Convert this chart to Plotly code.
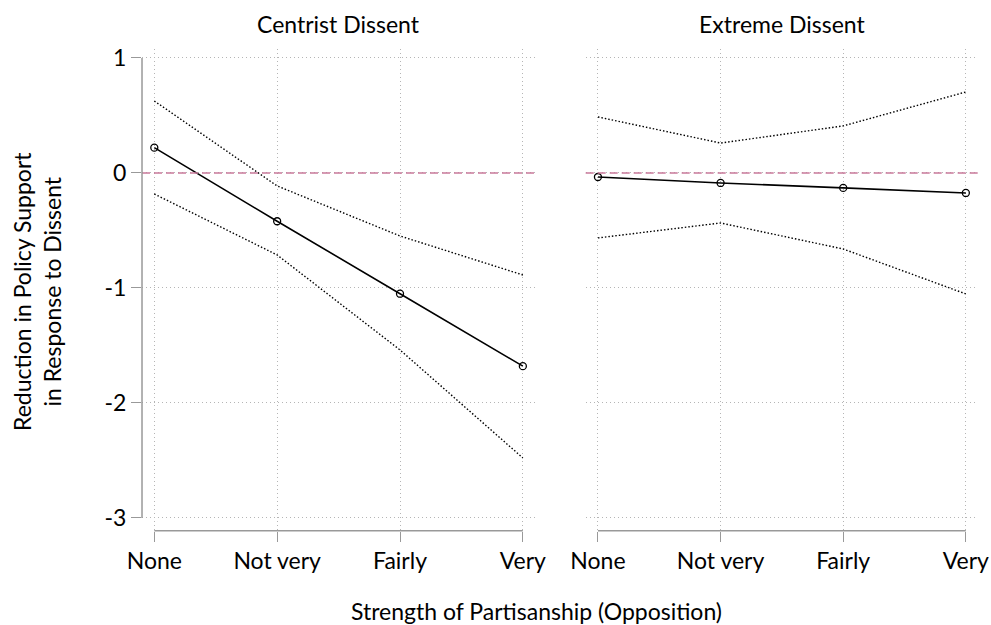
import plotly.graph_objects as go

categories = ["None", "Not very", "Fairly", "Very"]

centrist_est = [0.22, -0.42, -1.05, -1.68]
centrist_hi = [0.626, -0.113, -0.548, -0.887]
centrist_lo = [-0.183, -0.713, -1.539, -2.478]

extreme_est = [-0.035, -0.087, -0.13, -0.174]
extreme_hi = [0.487, 0.26, 0.409, 0.704]
extreme_lo = [-0.565, -0.435, -0.661, -1.052]

panel_titles = ["Centrist Dissent", "Extreme Dissent"]
y_ticks = [1, 0, -1, -2, -3]
y_ticklabels = ["1", "0", "-1", "-2", "-3"]

FONT = "Lato"
FS = 23
xpos = list(range(len(categories)))

fig = go.Figure()

panels = [
    ("x", "y", centrist_est, centrist_hi, centrist_lo),
    ("x2", "y2", extreme_est, extreme_hi, extreme_lo),
]
for xa, ya, est, hi, lo in panels:
    for ci in (hi, lo):
        fig.add_trace(go.Scatter(x=xpos, y=ci, mode="lines", xaxis=xa, yaxis=ya,
                                 line=dict(color="black", width=1.4, dash="1.5px,2px"),
                                 showlegend=False, hoverinfo="skip"))
    fig.add_trace(go.Scatter(x=xpos, y=est, mode="lines+markers", xaxis=xa, yaxis=ya,
                             line=dict(color="black", width=1.6),
                             marker=dict(symbol="circle-open", size=7, color="black",
                                         line=dict(width=1.3)),
                             showlegend=False))

grid = dict(showgrid=True, gridcolor="#b5b5b5", gridwidth=1, griddash="1px,3px",
            zeroline=False, automargin=False)

xcommon = dict(range=[-0.1, 3.1], tickmode="array", tickvals=xpos, ticktext=categories,
               ticks="outside", ticklen=10, tickcolor="#999999", tickwidth=1.3,
               showline=False, tickfont=dict(family=FONT, size=FS, color="black"), **grid)
ycommon = dict(range=[-3.11, 1.08], tickmode="array", tickvals=y_ticks, ticktext=y_ticklabels,
               domain=[0.151, 0.922], showline=False, **grid)

fig.update_layout(
    width=991, height=625,
    margin=dict(l=0, r=0, t=0, b=0),
    paper_bgcolor="white", plot_bgcolor="white",
    font=dict(family=FONT, color="black"),
    xaxis=dict(domain=[0.1433, 0.540], anchor="y", **xcommon),
    xaxis2=dict(domain=[0.591, 0.987], anchor="y2", **xcommon),
    yaxis=dict(anchor="x", ticks="outside", ticklen=10, tickcolor="#999999", tickwidth=1.3,
               tickfont=dict(family=FONT, size=FS, color="black"), showticklabels=True,
               **ycommon),
    yaxis2=dict(anchor="x2", ticks="", showticklabels=False, **ycommon),
)

# axis lines spanning the tick range (Stata style)
for xa, ya in (("x", "y"), ("x2", "y2")):
    fig.add_shape(type="line", xref=xa, yref=f"{ya} domain", x0=0, x1=3, y0=0, y1=0,
                  line=dict(color="#999999", width=1.5))
    # reference line at zero
    fig.add_shape(type="line", xref=f"{xa} domain", yref=ya, x0=0, x1=1, y0=0, y1=0,
                  line=dict(color="#c9799b", width=1.5, dash="8px,4px"), layer="above")
fig.add_shape(type="line", xref="x domain", yref="y", x0=0, x1=0, y0=-3, y1=1,
              line=dict(color="#999999", width=1.5))

# panel titles
for xa, t in (("x", panel_titles[0]), ("x2", panel_titles[1])):
    fig.add_annotation(text=t, xref=f"{xa} domain", yref="paper", x=0.5, y=1 - 24 / 625,
                       showarrow=False, font=dict(family=FONT, size=FS, color="black"),
                       xanchor="center", yanchor="middle")

fig.add_annotation(text="Strength of Partisanship (Opposition)", xref="paper", yref="paper",
                   x=536 / 991, y=1 - 611 / 625, showarrow=False,
                   font=dict(family=FONT, size=FS, color="black"),
                   xanchor="center", yanchor="middle")
fig.add_annotation(text="Reduction in Policy Support<br>in Response to Dissent", xref="paper",
                   yref="paper", x=37 / 991, y=1 - 292 / 625, showarrow=False, textangle=-90,
                   font=dict(family=FONT, size=FS, color="black"),
                   xanchor="center", yanchor="middle")

fig.write_html("out.html", config={"displayModeBar": False},
               post_script="document.body.style.margin='0';document.body.style.padding='0';")
